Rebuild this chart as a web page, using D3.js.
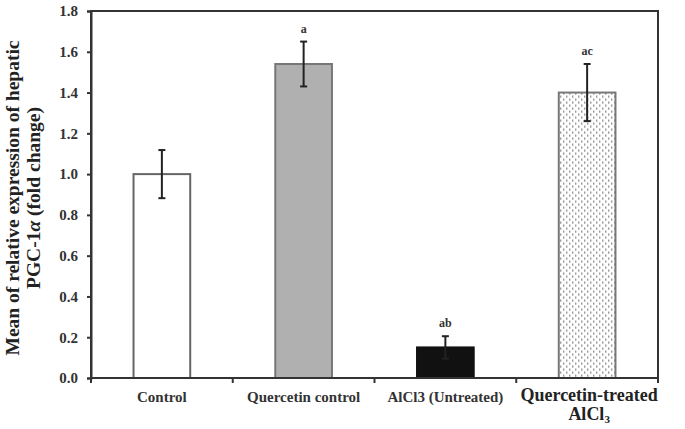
<!DOCTYPE html>
<html lang="en">
<head>
    <meta charset="UTF-8">
    <title>PGC-1a expression</title>
    <style>
        body { margin: 0; background: #fff; font-family: "Liberation Serif", "Times New Roman", serif; }
        .tick text { font-family: "Liberation Serif", serif; font-weight: bold; }
    </style>
</head>
<body>
<div id="chart"></div>
<script src="https://d3js.org/d3.v7.min.js"></script>
<script>
    // Data
    var groups = ["Control", "Quercetin control", "AlCl3 (Untreated)", "Quercetin-treated AlCl3"];
    var means = [1.00, 1.54, 0.15, 1.40];
    var errors = [0.118, 0.11, 0.055, 0.14];
    var letters = ["", "a", "ab", "ac"];
    var yTicks = [0, 0.2, 0.4, 0.6, 0.8, 1.0, 1.2, 1.4, 1.6, 1.8];

    var W = 685, H = 429;
    var margin = {top: 11, right: 27, bottom: 51, left: 91},
        width = W - margin.left - margin.right,
        height = H - margin.top - margin.bottom;

    var svg = d3.select("#chart").append("svg")
        .attr("width", W).attr("height", H);

    // dotted fill for the last bar
    var pat = svg.append("defs").append("pattern")
        .attr("id", "dots")
        .attr("patternUnits", "userSpaceOnUse")
        .attr("width", 6).attr("height", 6);
    pat.append("rect").attr("width", 6).attr("height", 6).attr("fill", "#fff");
    pat.append("rect").attr("x", 1).attr("y", 0.5).attr("width", 1.4).attr("height", 2.2).attr("fill", "#9a9a9a");
    pat.append("rect").attr("x", 4).attr("y", 3.5).attr("width", 1.4).attr("height", 2.2).attr("fill", "#9a9a9a");

    var g = svg.append("g").attr("transform", `translate(${margin.left},${margin.top})`);

    var x = d3.scaleBand().domain(groups).range([0, width]).paddingInner(0).paddingOuter(0);
    var y = d3.scaleLinear().domain([0, 1.8]).range([height, 0]);

    var fills = ["#fff", "#b0b0b0", "#111", "url(#dots)"];
    var strokes = ["#666", "#777", "#111", "#777"];
    var barW = x.bandwidth() * 0.4;

    // bars
    g.selectAll(".bar")
        .data(groups)
        .enter().append("rect")
        .attr("class", "bar")
        .attr("x", function (d) {return x(d) + (x.bandwidth() - barW) / 2;})
        .attr("y", function (d, i) {return y(means[i]);})
        .attr("width", barW)
        .attr("height", function (d, i) {return height - y(means[i]);})
        .attr("fill", function (d, i) {return fills[i];})
        .attr("stroke", function (d, i) {return strokes[i];})
        .attr("stroke-width", 2);

    // error bars
    var cap = 3.5;
    groups.forEach(function (d, i) {
        var cx = x(d) + x.bandwidth() / 2;
        var hi = y(means[i] + errors[i]), lo = y(means[i] - errors[i]);
        g.append("line").attr("x1", cx).attr("x2", cx).attr("y1", hi).attr("y2", lo)
            .attr("stroke", "#222").attr("stroke-width", 2);
        g.append("line").attr("x1", cx - cap).attr("x2", cx + cap).attr("y1", hi).attr("y2", hi)
            .attr("stroke", "#222").attr("stroke-width", 2);
        g.append("line").attr("x1", cx - cap).attr("x2", cx + cap).attr("y1", lo).attr("y2", lo)
            .attr("stroke", "#222").attr("stroke-width", 2);
        if (letters[i]) {
            g.append("text")
                .attr("x", cx)
                .attr("y", hi - 9)
                .attr("text-anchor", "middle")
                .attr("font-weight", "bold")
                .attr("font-size", 12)
                .attr("fill", "#333")
                .text(letters[i]);
        }
    });

    // frame
    g.append("rect").attr("width", width).attr("height", height)
        .attr("fill", "none").attr("stroke", "#333").attr("stroke-width", 2);

    // y axis
    var yAxis = g.append("g")
        .call(d3.axisLeft(y).tickValues(yTicks).tickFormat(d3.format(".1f")).tickSize(4).tickPadding(9));
    yAxis.select(".domain").attr("stroke", "#333").attr("stroke-width", 2);
    yAxis.selectAll(".tick line").attr("stroke", "#333").attr("stroke-width", 2);
    yAxis.selectAll(".tick text").attr("font-size", 15).attr("fill", "#333");

    // x axis: ticks at the category boundaries
    var bounds = groups.map(function (d) {return x(d);}).concat([width]);
    g.selectAll(".xtick")
        .data(bounds)
        .enter().append("line")
        .attr("x1", function (d) {return d;}).attr("x2", function (d) {return d;})
        .attr("y1", height).attr("y2", height + 5)
        .attr("stroke", "#333").attr("stroke-width", 2);

    groups.forEach(function (d, i) {
        var cx = x(d) + x.bandwidth() / 2;
        if (i < 3) {
            g.append("text")
                .attr("x", cx).attr("y", height + 24)
                .attr("text-anchor", "middle")
                .attr("font-weight", "bold").attr("font-size", 15).attr("fill", "#333")
                .text(d);
        } else {
            g.append("text")
                .attr("x", cx + 2).attr("y", height + 23)
                .attr("text-anchor", "middle")
                .attr("font-weight", "bold").attr("font-size", 18).attr("fill", "#222")
                .text("Quercetin-treated");
            var t2 = g.append("text")
                .attr("x", cx + 2).attr("y", height + 42)
                .attr("text-anchor", "middle")
                .attr("font-weight", "bold").attr("font-size", 18).attr("fill", "#222");
            t2.append("tspan").text("AlCl");
            t2.append("tspan").attr("font-size", 11).attr("dy", 3).text("3");
        }
    });

    // y axis title, two centred lines
    var titleG = svg.append("g").attr("transform", "translate(0,198) rotate(-90)");
    titleG.append("text")
        .attr("x", 0).attr("y", 19)
        .attr("text-anchor", "middle")
        .attr("font-weight", "bold").attr("font-size", 19.5).attr("fill", "#222")
        .text("Mean of relative expression of hepatic");
    var l2 = titleG.append("text")
        .attr("x", 0).attr("y", 40)
        .attr("text-anchor", "middle")
        .attr("font-weight", "bold").attr("font-size", 19.5).attr("fill", "#222");
    l2.append("tspan").text("PGC-1");
    l2.append("tspan").attr("font-style", "italic").text("α");
    l2.append("tspan").text(" (fold change)");
</script>
</body>
</html>
